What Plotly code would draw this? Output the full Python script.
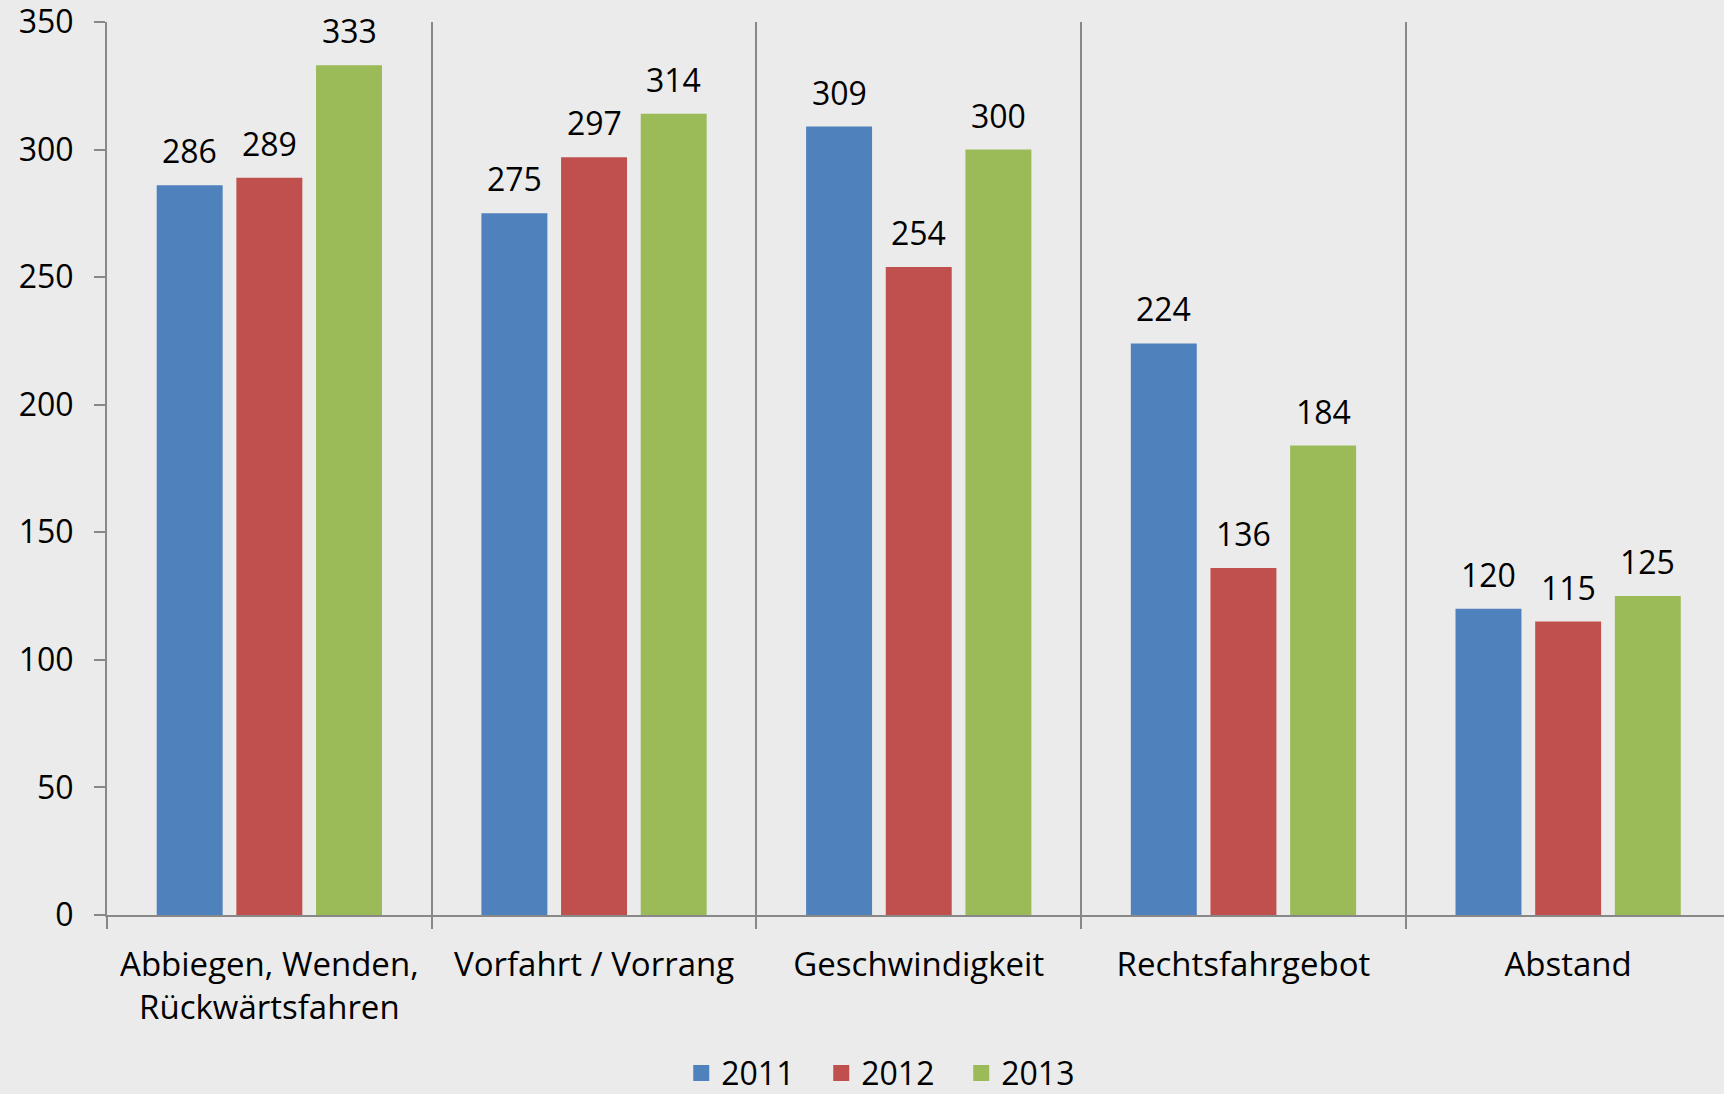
import plotly.graph_objects as go

categories = ["Abbiegen, Wenden,<br>Rückwärtsfahren", "Vorfahrt / Vorrang",
              "Geschwindigkeit", "Rechtsfahrgebot", "Abstand"]
years = ["2011", "2012", "2013"]
v2011 = [286, 275, 309, 224, 120]
v2012 = [289, 297, 254, 136, 115]
v2013 = [333, 314, 300, 184, 125]
colors = ["#4F81BD", "#C0504D", "#9BBB59"]
y_ticks = [0, 50, 100, 150, 200, 250, 300, 350]

FONT = "Open Sans"
W, H = 1724, 1094
L, R, T, B = 107, 0, 22, 179
X_RANGE = [-0.5, 4.48]
BARGAP = 0.264

fig = go.Figure()
for name, vals, col in zip(years, [v2011, v2012, v2013], colors):
    fig.add_trace(go.Bar(
        x=categories, y=vals, name=name, legendgroup=name, showlegend=False,
        marker=dict(color=col, line=dict(width=0)),
    ))
    fig.add_trace(go.Scatter(
        x=[None], y=[None], mode="markers", name=name, legendgroup=name,
        marker=dict(symbol="square", size=16, color=col),
    ))

# data labels placed above each bar of the group
cat_px = (W - L - R) / (X_RANGE[1] - X_RANGE[0])
slot = cat_px * (1 - BARGAP) / 3
for i, vals in enumerate([v2011, v2012, v2013]):
    for c, v in zip(categories, vals):
        fig.add_annotation(x=c, y=v, text=str(v), showarrow=False,
                           xanchor="center", yanchor="bottom",
                           xshift=(i - 1) * slot, yshift=11,
                           font=dict(family=FONT, size=32, color="black"))

fig.update_layout(
    width=W, height=H,
    paper_bgcolor="#EBEBEB", plot_bgcolor="#EBEBEB",
    margin=dict(l=L, r=R, t=T, b=B, autoexpand=False),
    barmode="group", bargap=BARGAP, bargroupgap=0.172,
    font=dict(family=FONT, size=32, color="black"),
    showlegend=True,
    legend=dict(orientation="h", x=0.485, xanchor="center",
                yref="container", y=0.019, yanchor="middle",
                font=dict(family=FONT, size=32, color="black"),
                bgcolor="rgba(0,0,0,0)", itemwidth=30, entrywidth=95),
    xaxis=dict(type="category", range=X_RANGE, tickson="boundaries", automargin=False,
               showgrid=True, gridcolor="#888888", gridwidth=2,
               showline=True, linecolor="#888888", linewidth=2,
               ticks="outside", ticklen=12, tickwidth=2, tickcolor="#888888",
               ticklabelstandoff=19,
               tickfont=dict(family=FONT, size=33, color="black")),
    yaxis=dict(range=[0, 350], tickvals=y_ticks, automargin=False,
               showgrid=False, zeroline=False,
               showline=True, linecolor="#888888", linewidth=2,
               ticks="outside", ticklen=11, tickwidth=2, tickcolor="#888888",
               ticklabelstandoff=14, ticklabeloverflow="allow",
               tickfont=dict(family=FONT, size=32, color="black")),
)

fig.write_html("out.html", config={"displayModeBar": False},
               post_script="document.body.style.margin='0';document.documentElement.style.overflow='hidden';")
